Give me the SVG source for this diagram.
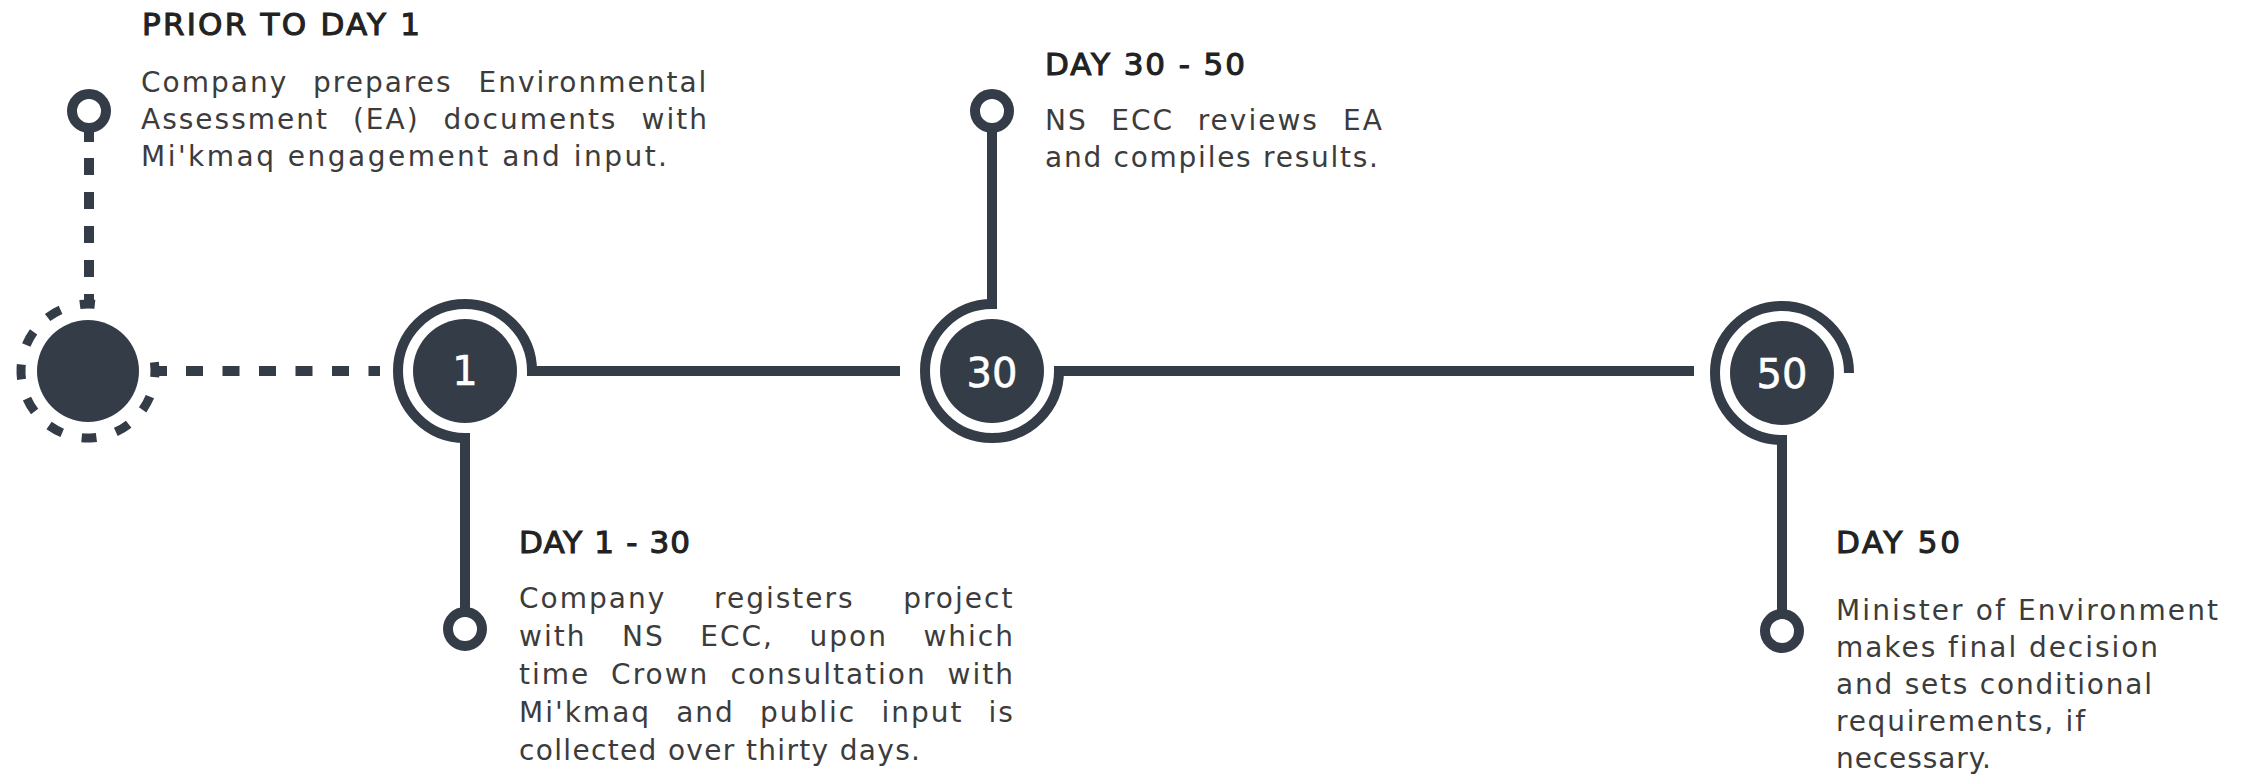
<svg xmlns="http://www.w3.org/2000/svg" width="2249" height="778" viewBox="0 0 2249 778">
<style>
.ink{fill:#343d47}
.ring{fill:none;stroke:#343d47;stroke-width:10}
.line{fill:none;stroke:#343d47;stroke-width:10}
.dash{fill:none;stroke:#343d47;stroke-width:10}
.dring{fill:none;stroke:#343d47;stroke-width:9;stroke-dasharray:15 20.08}
.pin{fill:#fff;stroke:#343d47;stroke-width:10}
.num{font-family:"DejaVu Sans",sans-serif;font-size:40px;fill:#fff;stroke:#fff;stroke-width:0.6;text-anchor:middle}
.hd{font-family:"DejaVu Sans",sans-serif;font-size:31px;fill:#222;stroke:#222;stroke-width:1.1}
.tx{font-family:"DejaVu Sans",sans-serif;font-size:28px;letter-spacing:2px;fill:#3c3c3c}
</style>
<rect width="2249" height="778" fill="#fff"/>

<g id="connectors">
  <path class="line" d="M89 128 V142"/>
  <path class="dash" d="M89 158 V300" stroke-dasharray="17 17"/>
  <path class="line" d="M155 371 H167"/>
  <path class="dash" d="M186 371 H380" stroke-dasharray="17 19.5"/>
  <path class="line" d="M527 371 H900"/>
  <path class="line" d="M465 433 V609"/>
  <path class="line" d="M992 128 V309"/>
  <path class="line" d="M1054 371 H1694"/>
  <path class="line" d="M1782 435 V611"/>
</g>

<g id="node-start">
  <circle class="ink" cx="88" cy="371" r="51"/>
  <path class="dring" d="M154.43 362.25 A67 67 0 1 1 96.75 304.57"/>
</g>

<g id="node-day1">
  <path class="ring" d="M532 371 A67 67 0 1 0 465 438"/>
  <circle class="ink" cx="465" cy="371" r="52"/>
  <text class="num" x="465" y="385">1</text>
</g>

<g id="node-day30">
  <path class="ring" d="M992 304 A67 67 0 1 0 1059 371"/>
  <circle class="ink" cx="992" cy="371" r="52"/>
  <text class="num" x="992" y="387">30</text>
</g>

<g id="node-day50">
  <path class="ring" d="M1849 373 A67 67 0 1 0 1782 440"/>
  <circle class="ink" cx="1782" cy="373" r="52"/>
  <text class="num" x="1782" y="388">50</text>
</g>

<g id="label-prior">
  <circle class="pin" cx="89" cy="111" r="17"/>
  <text class="hd" x="142" y="35" textLength="278" lengthAdjust="spacing">PRIOR TO DAY 1</text>
  <text class="tx" y="92"><tspan x="141">Company </tspan><tspan x="313">prepares </tspan><tspan x="478.6">Environmental</tspan></text>
  <text class="tx" y="129"><tspan x="141">Assessment </tspan><tspan x="352.9">(EA) </tspan><tspan x="443.6">documents </tspan><tspan x="641.5">with</tspan></text>
  <text class="tx" x="141" y="166" textLength="528" lengthAdjust="spacing">Mi'kmaq engagement and input.</text>
</g>

<g id="label-day1-30">
  <circle class="pin" cx="465" cy="629" r="17"/>
  <text class="hd" x="519" y="553" textLength="171" lengthAdjust="spacing">DAY 1 - 30</text>
  <text class="tx" y="608"><tspan x="519">Company </tspan><tspan x="714.1">registers </tspan><tspan x="903.2">project</tspan></text>
  <text class="tx" y="646"><tspan x="519">with </tspan><tspan x="622">NS </tspan><tspan x="700.2">ECC, </tspan><tspan x="809.5">upon </tspan><tspan x="923.4">which</tspan></text>
  <text class="tx" y="684"><tspan x="519">time </tspan><tspan x="611.1">Crown </tspan><tspan x="730.6">consultation </tspan><tspan x="947.6">with</tspan></text>
  <text class="tx" y="722"><tspan x="519">Mi'kmaq </tspan><tspan x="676.2">and </tspan><tspan x="760">public </tspan><tspan x="881.4">input </tspan><tspan x="988.5">is</tspan></text>
  <text class="tx" x="519" y="760" textLength="403" lengthAdjust="spacing">collected over thirty days.</text>
</g>

<g id="label-day30-50">
  <circle class="pin" cx="992" cy="111" r="17"/>
  <text class="hd" x="1045" y="75" textLength="200" lengthAdjust="spacing">DAY 30 - 50</text>
  <text class="tx" y="130"><tspan x="1045">NS </tspan><tspan x="1111.3">ECC </tspan><tspan x="1197.7">reviews </tspan><tspan x="1343.1">EA</tspan></text>
  <text class="tx" x="1045" y="167" textLength="335" lengthAdjust="spacing">and compiles results.</text>
</g>

<g id="label-day50">
  <circle class="pin" cx="1782" cy="631" r="17"/>
  <text class="hd" x="1836" y="553" textLength="124" lengthAdjust="spacing">DAY 50</text>
  <text class="tx" x="1836" y="620" textLength="384" lengthAdjust="spacing">Minister of Environment</text>
  <text class="tx" x="1836" y="657" textLength="324" lengthAdjust="spacing">makes final decision</text>
  <text class="tx" x="1836" y="694" textLength="318" lengthAdjust="spacing">and sets conditional</text>
  <text class="tx" x="1836" y="731" textLength="251" lengthAdjust="spacing">requirements, if</text>
  <text class="tx" x="1836" y="768" textLength="157" lengthAdjust="spacing">necessary.</text>
</g>
</svg>
